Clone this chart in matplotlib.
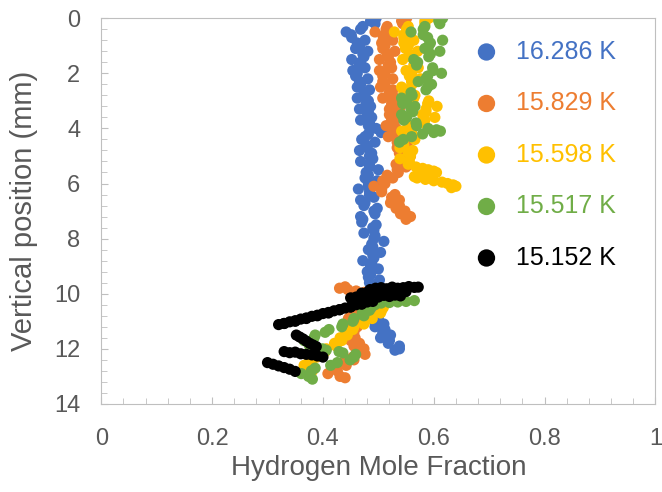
import matplotlib
matplotlib.use('Agg')
import matplotlib.pyplot as plt
from matplotlib.ticker import MultipleLocator

plt.rcParams['font.family'] = ['Liberation Sans', 'DejaVu Sans']

labels = ['16.286 K', '15.829 K', '15.598 K', '15.517 K', '15.152 K']
colors = ['#4472C4', '#ED7D31', '#FFC000', '#70AD47', '#000000']

# 16.286 K
blue_y = [0.0, 0.1, 0.2, 0.3, 0.4, 0.5, 0.6, 0.7, 0.8, 0.9,
          1.0, 1.1, 1.2, 1.3, 1.4, 1.5, 1.6, 1.7, 1.8, 1.9,
          2.0, 2.1, 2.2, 2.3, 2.4, 2.5, 2.6, 2.7, 2.8, 2.9,
          3.0, 3.1, 3.2, 3.3, 3.4, 3.5, 3.6, 3.7, 3.8, 3.9,
          4.0, 4.05, 4.1, 4.15, 4.2, 4.3, 4.4, 4.5, 4.6, 4.7, 4.8, 4.9,
          5.0, 5.1, 5.2, 5.3, 5.4, 5.5, 5.6, 5.7, 5.8, 5.9,
          6.0, 6.1, 6.2, 6.3, 6.4, 6.5, 6.6, 6.7, 6.8, 6.9,
          7.0, 7.1, 7.2, 7.3, 7.4, 7.5, 7.6, 7.7, 7.8, 7.9,
          8.0, 8.1, 8.2, 8.3, 8.4, 8.5, 8.6, 8.7, 8.8, 8.9,
          9.0, 9.1, 9.2, 9.3, 9.4, 9.5, 9.6, 9.7, 9.8, 9.9,
          10.0, 10.1, 10.2, 10.3, 10.4, 10.5, 10.6, 10.7, 10.8, 10.9,
          11.0, 11.1, 11.2, 11.3, 11.4, 11.5, 11.6, 11.7, 11.8, 11.9,
          12.0, 12.05]
blue_x = [0.496, 0.486, 0.494, 0.472, 0.468, 0.442, 0.451, 0.452, 0.476, 0.462,
          0.466, 0.459, 0.481, 0.472, 0.474, 0.452, 0.468, 0.466, 0.476, 0.454,
          0.462, 0.459, 0.481, 0.466, 0.468, 0.462, 0.484, 0.474, 0.476, 0.462,
          0.482, 0.478, 0.486, 0.466, 0.482, 0.480, 0.488, 0.468, 0.484, 0.482,
          0.496, 0.508, 0.520, 0.505, 0.482, 0.476, 0.470, 0.494, 0.478, 0.480, 0.466, 0.488,
          0.484, 0.490, 0.468, 0.484, 0.484, 0.500, 0.478, 0.482, 0.476, 0.498,
          0.482, 0.482, 0.464, 0.484, 0.484, 0.492, 0.468, 0.476, 0.474, 0.498,
          0.492, 0.494, 0.468, 0.472, 0.470, 0.496, 0.490, 0.492, 0.474, 0.494,
          0.492, 0.510, 0.488, 0.490, 0.482, 0.504, 0.490, 0.492, 0.472, 0.488,
          0.486, 0.500, 0.480, 0.486, 0.482, 0.502, 0.484, 0.490, 0.486, 0.506,
          0.492, 0.496, 0.478, 0.494, 0.488, 0.496, 0.476, 0.486, 0.480, 0.500,
          0.494, 0.510, 0.494, 0.512, 0.508, 0.522, 0.504, 0.520, 0.518, 0.538,
          0.538, 0.530]

# 15.829 K
orange_y = [0.0, 0.1, 0.2, 0.3, 0.4, 0.5, 0.6, 0.7, 0.8, 0.9,
            1.0, 1.1, 1.2, 1.3, 1.4, 1.5, 1.6, 1.7, 1.8, 1.9,
            2.0, 2.1, 2.2, 2.3, 2.4, 2.5, 2.6, 2.7, 2.8, 2.9,
            3.0, 3.1, 3.2, 3.3, 3.4, 3.5, 3.6, 3.7, 3.8, 3.9,
            4.0, 4.1, 4.2, 4.3, 4.4, 4.5, 4.6, 4.7, 4.8, 4.9,
            5.0, 5.1, 5.2, 5.3, 5.4, 5.5, 5.6, 5.7, 5.8, 5.9,
            6.0, 6.1, 6.2, 6.3, 6.4, 6.5, 6.6, 6.7, 6.8, 6.9,
            7.0, 7.1, 7.2, 7.3,
            9.75, 9.8, 9.85, 9.9, 9.95, 10.0, 10.05, 10.1,
            10.2, 10.3, 10.4, 10.5, 10.6, 10.7, 10.8, 10.9,
            11.0, 11.1, 11.2, 11.3, 11.4, 11.5, 11.6, 11.7, 11.8, 11.9,
            12.0, 12.1, 12.2, 12.3, 12.4, 12.5, 12.6, 12.7, 12.8, 12.9,
            13.0, 13.05]
orange_x = [0.551, 0.542, 0.544, 0.516, 0.514, 0.494, 0.511, 0.509, 0.526, 0.506,
            0.512, 0.508, 0.530, 0.516, 0.518, 0.502, 0.522, 0.518, 0.524, 0.502,
            0.512, 0.508, 0.526, 0.508, 0.512, 0.504, 0.526, 0.520, 0.526, 0.508,
            0.526, 0.524, 0.540, 0.520, 0.526, 0.520, 0.540, 0.524, 0.528, 0.514,
            0.532, 0.526, 0.534, 0.518, 0.536, 0.534, 0.552, 0.534, 0.542, 0.538,
            0.558, 0.544, 0.548, 0.532, 0.550, 0.534, 0.536, 0.516, 0.526, 0.508,
            0.512, 0.492, 0.506, 0.506, 0.530, 0.524, 0.538, 0.522, 0.538, 0.532,
            0.548, 0.540, 0.558, 0.550,
            0.440, 0.430, 0.445, 0.460, 0.475, 0.490, 0.500, 0.505,
            0.498, 0.474, 0.476, 0.460, 0.468, 0.452, 0.462, 0.446,
            0.456, 0.446, 0.462, 0.448, 0.456, 0.442, 0.458, 0.450, 0.466, 0.456,
            0.474, 0.468, 0.476, 0.454, 0.456, 0.436, 0.442, 0.424, 0.426, 0.409,
            0.431, 0.440]

# 15.598 K
yellow_y = [0.0, 0.1, 0.2, 0.3, 0.4, 0.5, 0.6, 0.7, 0.8, 0.9,
            1.0, 1.1, 1.2, 1.3, 1.4, 1.5, 1.6, 1.7, 1.8, 1.9,
            2.0, 2.1, 2.2, 2.3, 2.4, 2.5, 2.6, 2.7, 2.8, 2.9,
            3.0, 3.1, 3.2, 3.3, 3.4, 3.5, 3.6, 3.7, 3.8, 3.9,
            4.0, 4.1, 4.2, 4.3, 4.4, 4.5, 4.6, 4.7, 4.8, 4.9,
            5.0, 5.1, 5.2, 5.3, 5.4, 5.45, 5.5, 5.55, 5.6,
            5.65, 5.7, 5.75, 5.8, 5.85, 5.9, 5.95, 6.0, 6.05, 6.1, 6.15,
            9.9, 10.0, 10.1, 10.2, 10.3, 10.4, 10.5, 10.6, 10.7, 10.8, 10.9,
            11.0, 11.1, 11.2, 11.3, 11.4, 11.5, 11.6, 11.7, 11.8, 11.9,
            12.0, 12.1, 12.2, 12.3, 12.4, 12.5, 12.6, 12.7, 12.8]
yellow_x = [0.591, 0.584, 0.584, 0.554, 0.551, 0.529, 0.546, 0.546, 0.564, 0.546,
            0.554, 0.549, 0.571, 0.556, 0.558, 0.544, 0.566, 0.564, 0.572, 0.550,
            0.560, 0.556, 0.576, 0.560, 0.561, 0.542, 0.551, 0.546, 0.566, 0.564,
            0.591, 0.589, 0.606, 0.586, 0.586, 0.580, 0.602, 0.584, 0.581, 0.554,
            0.558, 0.542, 0.561, 0.559, 0.566, 0.542, 0.546, 0.539, 0.562, 0.554,
            0.558, 0.539, 0.556, 0.554, 0.568, 0.580, 0.590, 0.600, 0.605,
            0.590, 0.575, 0.565, 0.570, 0.585, 0.600, 0.615, 0.625, 0.635, 0.640, 0.632,
            0.494, 0.500, 0.514, 0.496, 0.494, 0.491, 0.509, 0.506, 0.504, 0.486, 0.489,
            0.476, 0.474, 0.456, 0.454, 0.441, 0.444, 0.431, 0.434, 0.421, 0.424,
            0.406, 0.404, 0.386, 0.389, 0.376, 0.379, 0.366, 0.379, 0.381]

# 15.517 K
green_y = [0.0, 0.1, 0.2, 0.3, 0.4, 0.5, 0.6, 0.7, 0.8, 0.9,
           1.0, 1.1, 1.2, 1.3, 1.4, 1.5, 1.6, 1.7, 1.8, 1.9,
           2.0, 2.1, 2.2, 2.3, 2.4, 2.5, 2.6, 2.7, 2.8, 2.9,
           3.0, 3.1, 3.2, 3.3, 3.4, 3.5, 3.6, 3.7, 3.8, 3.9,
           4.0, 4.05, 4.1, 4.15, 4.2, 4.3, 4.4, 4.5,
           10.25, 10.28, 10.3, 10.32, 10.34, 10.4, 10.5, 10.6, 10.7, 10.8, 10.9,
           11.0, 11.1, 11.2, 11.3, 11.4, 11.5, 11.6, 11.7, 11.8, 11.9,
           12.0, 12.05, 12.1, 12.15, 12.2, 12.3, 12.4, 12.5, 12.6, 12.7, 12.8, 12.9,
           13.0, 13.1]
green_x = [0.616, 0.609, 0.611, 0.584, 0.581, 0.559, 0.581, 0.589, 0.616, 0.594,
           0.591, 0.584, 0.611, 0.594, 0.591, 0.564, 0.571, 0.569, 0.598, 0.599,
           0.614, 0.589, 0.586, 0.572, 0.596, 0.589, 0.586, 0.559, 0.561, 0.542,
           0.551, 0.544, 0.566, 0.559, 0.562, 0.542, 0.551, 0.546, 0.568, 0.569,
           0.590, 0.605, 0.612, 0.600, 0.580, 0.560, 0.545, 0.538,
           0.565, 0.550, 0.535, 0.520, 0.505, 0.494, 0.481, 0.484, 0.471, 0.474, 0.456,
           0.454, 0.436, 0.434, 0.411, 0.404, 0.386, 0.384, 0.366, 0.374, 0.376,
           0.399, 0.406, 0.429, 0.436, 0.459, 0.456, 0.449, 0.426, 0.414, 0.386, 0.379, 0.361,
           0.374, 0.381]

# 15.152 K
black_x = [0.485, 0.495, 0.505, 0.515, 0.525, 0.535, 0.545, 0.555, 0.565, 0.572,
           0.470, 0.480, 0.490, 0.500, 0.510, 0.520, 0.530, 0.540, 0.550,
           0.450, 0.460, 0.470, 0.480, 0.490, 0.500, 0.510, 0.520, 0.530, 0.540,
           0.490, 0.480, 0.470, 0.460, 0.450, 0.440, 0.430, 0.420, 0.410,
           0.400, 0.390, 0.380, 0.370, 0.360, 0.350, 0.340, 0.330, 0.320,
           0.470, 0.450, 0.430, 0.410, 0.390, 0.370, 0.350, 0.330,
           0.352, 0.358, 0.364, 0.370, 0.376, 0.382, 0.388,
           0.330, 0.340, 0.350, 0.360, 0.370, 0.380, 0.390, 0.400,
           0.300, 0.310, 0.320, 0.330, 0.340, 0.350]
black_y = [9.85, 9.80, 9.78, 9.82, 9.76, 9.80, 9.78, 9.74, 9.77, 9.76,
           9.98, 9.95, 9.93, 9.96, 9.92, 9.95, 9.93, 9.97, 9.92,
           10.15, 10.12, 10.10, 10.14, 10.08, 10.12, 10.06, 10.10, 10.05, 10.08,
           10.28, 10.30, 10.38, 10.40, 10.48, 10.52, 10.58, 10.62, 10.68,
           10.72, 10.78, 10.82, 10.88, 10.92, 10.98, 11.02, 11.08, 11.12,
           10.36, 10.48, 10.58, 10.70, 10.80, 10.90, 11.00, 11.08,
           11.50, 11.57, 11.64, 11.72, 11.80, 11.86, 11.92,
           12.10, 12.14, 12.12, 12.18, 12.20, 12.22, 12.26, 12.30,
           12.50, 12.56, 12.62, 12.68, 12.74, 12.82]

series_x = [blue_x, orange_x, yellow_x, green_x, black_x]
series_y = [blue_y, orange_y, yellow_y, green_y, black_y]

fig, ax = plt.subplots(figsize=(6.62, 4.92), dpi=100)
fig.subplots_adjust(left=0.153, right=0.99, bottom=0.179, top=0.963)

for xs, ys, c, lab in zip(series_x, series_y, colors, labels):
    ax.scatter(xs, ys, s=65, color=c, edgecolors='none', label=lab)

ax.set_xlim(0, 1)
ax.set_ylim(14, 0)
ax.xaxis.set_major_locator(MultipleLocator(0.2))
ax.xaxis.set_minor_locator(MultipleLocator(0.04))
ax.yaxis.set_major_locator(MultipleLocator(2))
ax.yaxis.set_minor_locator(MultipleLocator(0.4))
ax.set_xticks([0, 0.2, 0.4, 0.6, 0.8, 1])
ax.set_xticklabels(['0', '0.2', '0.4', '0.6', '0.8', '1'])

for sp in ax.spines.values():
    sp.set_color('#BFBFBF')
ax.tick_params(which='both', direction='in', color='#BFBFBF', labelcolor='#595959',
               labelsize=17)
ax.tick_params(which='major', length=5)
ax.tick_params(which='minor', length=4)
ax.tick_params(axis='x', pad=17)
ax.tick_params(axis='y', pad=15)

ax.set_xlabel('Hydrogen Mole Fraction', fontsize=20, color='#595959', labelpad=4)
ax.set_ylabel('Vertical position (mm)', fontsize=21, color='#595959', labelpad=12)

ax.legend(loc='upper left', bbox_to_anchor=(0.632, 1.003), frameon=False,
          fontsize=18, markerscale=1.55, scatterpoints=1, handletextpad=0.68,
          labelspacing=1.1, labelcolor=colors, handlelength=1.0)

fig.savefig('out.png', dpi=100)
plt.close()
